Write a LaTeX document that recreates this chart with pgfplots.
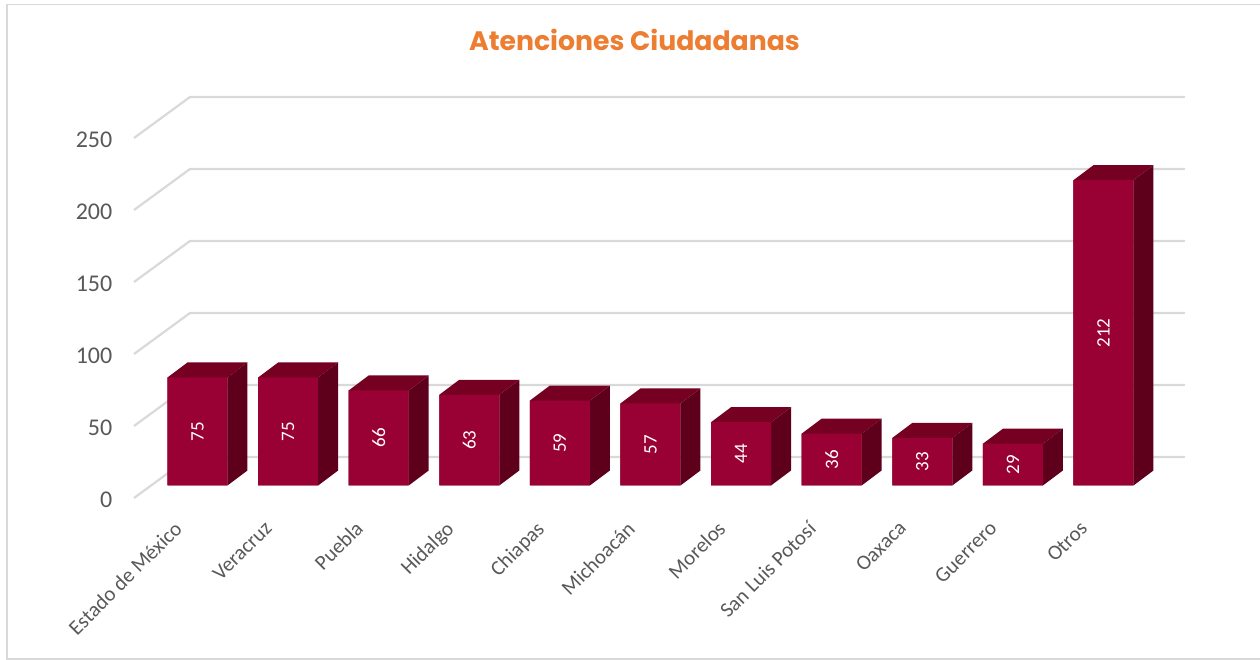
\documentclass[border=0pt]{standalone}
\usepackage{pgfplots}
\usepackage{pgfplotstable}
\usepackage{fontspec}
\pgfplotsset{compat=1.18}
\setmainfont{Carlito}
\newfontfamily\titlefont{Poppins}
\definecolor{barfront}{HTML}{990033}
\definecolor{bartop}{HTML}{750022}
\definecolor{barside}{HTML}{5E001C}
\definecolor{gridc}{HTML}{D9D9D9}
\definecolor{textc}{HTML}{595959}
\definecolor{titlec}{HTML}{ED7D31}
\pgfplotstableread{
i v
0 75
1 75
2 66
3 63
4 59
5 57
6 44
7 36
8 33
9 29
10 212
}\datatable
% half bar width 0.3311, depth dx 0.2208, depth dy 10.42 (axis units)
\newcommand\barfaces[2]{%
  \pgfmathsetmacro\xa{#1-0.3311}%
  \pgfmathsetmacro\xb{#1+0.3311}%
  \pgfmathsetmacro\xc{#1-0.3311+0.2208}%
  \pgfmathsetmacro\xd{#1+0.3311+0.2208}%
  \pgfmathsetmacro\yt{#2+10.42}%
  \edef\temp{%
    \noexpand\addplot[draw=none,fill=bartop,forget plot] coordinates {(\xa,#2) (\xc,\yt) (\xd,\yt) (\xb,#2)} \noexpand\closedcycle;
    \noexpand\addplot[draw=none,fill=barside,forget plot] coordinates {(\xb,#2) (\xd,\yt) (\xd,10.42) (\xb,0)} \noexpand\closedcycle;
  }\temp
}
\newcommand\gridl[3]{%
  \addplot[gridc,line width=2.2pt,line join=round,forget plot] coordinates {(-0.7009,#1) (-0.0828,#2) (10.9,#2)};
}
\begin{document}
\begin{tikzpicture}[x=1pt,y=1pt]
\useasboundingbox (0,0) rectangle (1260,660);
\draw[gridc,line width=1.5pt] (1260,655.5) -- (7,655.5) -- (7,1) -- (1260,1);
\node[text=titlec,font=\titlefont\fontsize{26.7}{30}\selectfont\bfseries,anchor=center] at (634.5,620) {Atenciones Ciudadanas};
\begin{axis}[
  at={(134pt,174.5pt)},anchor=south west,
  scale only axis,width=1051pt,height=360pt,
  xmin=-0.7009,xmax=10.9,ymin=0,ymax=250,
  clip=false,
  axis line style={draw=none},
  tick style={draw=none},
  major tick length=0pt,
  xtick={0,1,2,3,4,5,6,7,8,9,10},
  xticklabels={Estado de México,Veracruz,Puebla,Hidalgo,Chiapas,Michoacán,Morelos,San Luis Potosí,Oaxaca,Guerrero,Otros},
  ytick={0,50,100,150,200,250},
  /pgf/number format/assume math mode=true,
  yticklabel style={anchor=east,inner sep=0pt,xshift=-21.5pt,yshift=-14pt,text=textc,font=\fontsize{24}{24}\selectfont},
  xticklabel style={rotate=45,anchor=north east,inner sep=0pt,xshift=-41.6pt,yshift=-6.7pt,text=textc,font=\fontsize{21}{21}\selectfont},
]
\gridl{-8.68}{19.79}{0}
\gridl{41.32}{69.79}{50}
\gridl{91.32}{119.79}{100}
\gridl{141.32}{169.79}{150}
\gridl{191.32}{219.79}{200}
\gridl{241.32}{269.79}{250}
\barfaces{0}{75}
\barfaces{1}{75}
\barfaces{2}{66}
\barfaces{3}{63}
\barfaces{4}{59}
\barfaces{5}{57}
\barfaces{6}{44}
\barfaces{7}{36}
\barfaces{8}{33}
\barfaces{9}{29}
\barfaces{10}{212}
\addplot[ybar,bar shift=0pt,bar width=60pt,draw=none,fill=barfront,forget plot] table[x=i,y=v] {\datatable};
\addplot[draw=none,forget plot,
  point meta=explicit,
  nodes near coords,
  every node near coord/.style={rotate=90,anchor=center,text=white,inner sep=0pt,font=\fontsize{19}{19}\selectfont},
] table[x=i,y expr=\thisrow{v}/2,meta=v] {\datatable};
\end{axis}
\end{tikzpicture}
\end{document}
